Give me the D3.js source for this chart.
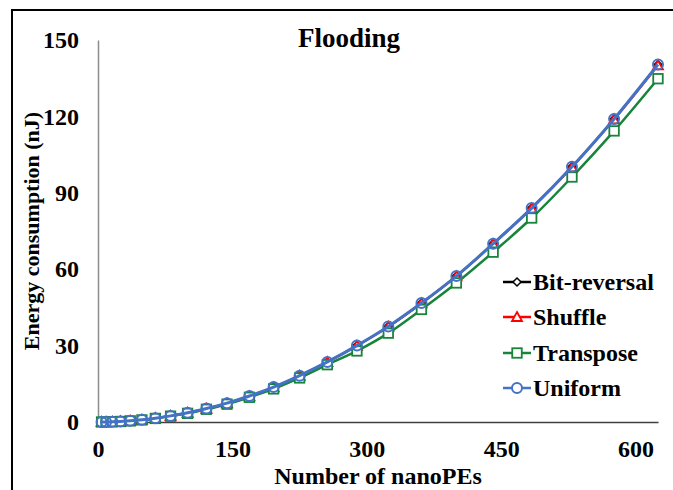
<!DOCTYPE html>
<html><head><meta charset="utf-8">
<script src="https://cdn.jsdelivr.net/npm/d3@7/dist/d3.min.js"></script>
<style>body{margin:0;background:#fff}svg{display:block}</style>
</head><body><svg id="c" width="673" height="490"></svg>
<script>
const nanoPEs = [4, 9, 16, 25, 36, 49, 64, 81, 100, 121, 144, 169, 196, 225, 256, 289, 324, 361, 400, 441, 484, 529, 576, 625];
const bitReversal = [0.01, 0.03, 0.09, 0.22, 0.46, 0.86, 1.5, 2.4, 3.6, 5.3, 7.4, 10.2, 13.7, 18.2, 23.6, 30.0, 37.5, 46.7, 57.3, 70.0, 84.0, 100.2, 119.0, 140.3];
const shuffle = [0.01, 0.03, 0.09, 0.22, 0.45, 0.85, 1.5, 2.4, 3.6, 5.2, 7.3, 10.1, 13.6, 18.1, 23.5, 29.9, 37.4, 46.6, 57.2, 69.9, 83.8, 100.0, 118.8, 140.0];
const transpose = [0.01, 0.03, 0.08, 0.21, 0.44, 0.82, 1.4, 2.3, 3.4, 5.0, 7.0, 9.7, 13.0, 17.3, 22.5, 27.9, 34.9, 44.2, 54.6, 66.7, 80.1, 96.2, 114.3, 134.8];
const uniform = [0.01, 0.03, 0.09, 0.22, 0.46, 0.86, 1.5, 2.4, 3.6, 5.3, 7.4, 10.2, 13.7, 18.2, 23.6, 30.0, 37.5, 46.7, 57.3, 70.0, 84.0, 100.2, 119.0, 140.4];
const seriesNames = ["Bit-reversal", "Shuffle", "Transpose", "Uniform"];
const xTicks = [0, 150, 300, 450, 600];
const yTicks = [0, 30, 60, 90, 120, 150];
const title = "Flooding";
const xTitle = "Number of nanoPEs";
const yTitle = "Energy consumption (nJ)";

const FONT = '"Liberation Serif", "Times New Roman", serif';
const svg = d3.select("#c");
svg.append("rect").attr("x",12).attr("y",10).attr("width",720).attr("height",520)
  .attr("fill","#fff").attr("stroke","#000").attr("stroke-width",2);

const x = d3.scaleLinear().domain([0,625]).range([98,658]);
const y = d3.scaleLinear().domain([0,150]).range([422,40]);

function styleText(sel, size){
  sel.style("font-family",FONT).style("font-weight","bold").style("font-size",size+"px").style("fill","#000");
}

// axes
const xAxis = svg.append("g").attr("transform","translate(0,422)")
  .call(d3.axisBottom(x).tickValues(xTicks).tickSize(0).tickPadding(18).tickFormat(d3.format("d")));
xAxis.select(".domain").attr("stroke","#404040").attr("stroke-width",1.5);
styleText(xAxis.selectAll("text").attr("dy","0.71em"), 24);

const yAxis = svg.append("g").attr("transform","translate(98,0)")
  .call(d3.axisLeft(y).tickValues(yTicks).tickSize(0).tickPadding(19).tickFormat(d3.format("d")));
yAxis.select(".domain").attr("stroke","#8c8c8c").attr("stroke-width",1.5);
styleText(yAxis.selectAll("text"), 24);

// titles
styleText(svg.append("text").attr("x",349).attr("y",47).attr("text-anchor","middle").text(title), 27);
styleText(svg.append("text").attr("x",378).attr("y",484).attr("text-anchor","middle").text(xTitle), 24);
styleText(svg.append("text").attr("transform","translate(39,231) rotate(-90)").attr("text-anchor","middle").text(yTitle), 22);

const series = [
  {name:seriesNames[0], vals:bitReversal, color:"#000000", width:2, marker:"diamond"},
  {name:seriesNames[1], vals:shuffle, color:"#ff0000", width:2, marker:"triangle"},
  {name:seriesNames[2], vals:transpose, color:"#17843a", width:2.5, marker:"square"},
  {name:seriesNames[3], vals:uniform, color:"#4472c4", width:3, marker:"circle"}
];

function drawMarker(g, type, cx, cy, color, fill){
  if(type==="circle"){
    g.append("circle").attr("cx",cx).attr("cy",cy).attr("r",5).attr("fill",fill).attr("stroke",color).attr("stroke-width",2);
  } else if(type==="square"){
    g.append("rect").attr("x",cx-4.75).attr("y",cy-4.75).attr("width",9.5).attr("height",9.5).attr("fill",fill).attr("stroke",color).attr("stroke-width",1.8);
  } else if(type==="triangle"){
    g.append("path").attr("d",`M${cx},${cy-5}L${cx+5},${cy+4}L${cx-5},${cy+4}Z`).attr("fill",fill).attr("stroke",color).attr("stroke-width",1.8);
  } else {
    g.append("path").attr("d",`M${cx},${cy-4}L${cx+4},${cy}L${cx},${cy+4}L${cx-4},${cy}Z`).attr("fill",fill).attr("stroke",color).attr("stroke-width",1.5);
  }
}

const line = d3.line().x(d=>x(d[0])).y(d=>y(d[1])).curve(d3.curveMonotoneX);
series.forEach(s=>{
  const pts = nanoPEs.map((n,i)=>[n,s.vals[i]]);
  const g = svg.append("g");
  g.append("path").datum(pts).attr("d",line).attr("fill","none").attr("stroke",s.color).attr("stroke-width",s.width);
  pts.forEach(p=>drawMarker(g, s.marker, x(p[0]), y(p[1]), s.color, s.marker==="circle"?"none":"#fff"));
});

// legend
const legY = [282, 317, 353, 388];
series.forEach((s,i)=>{
  const g = svg.append("g");
  g.append("line").attr("x1",503).attr("x2",531).attr("y1",legY[i]).attr("y2",legY[i]).attr("stroke",s.color).attr("stroke-width",2.5);
  drawMarker(g, s.marker, 517, legY[i], s.color, "#fff");
  styleText(g.append("text").attr("x",533).attr("y",legY[i]).attr("dy","0.35em").text(s.name), 24);
});
</script></body></html>
